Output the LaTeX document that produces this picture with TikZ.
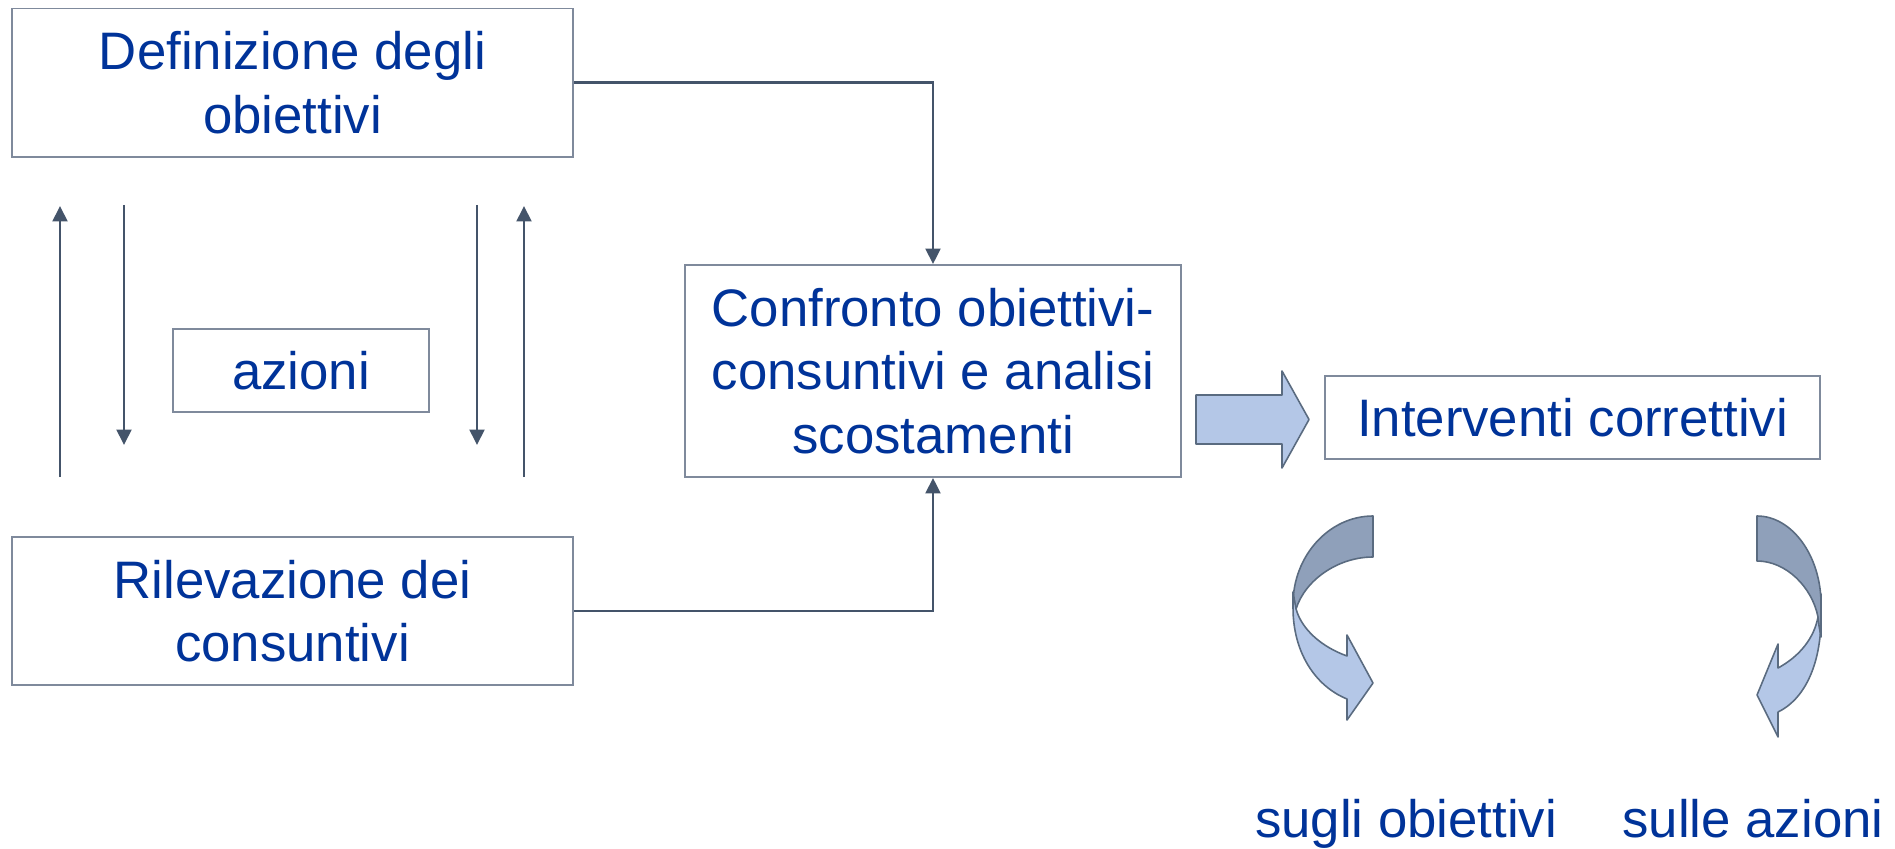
\documentclass[tikz,border=0pt]{standalone}
\usepackage{fontspec}
\setmainfont{Liberation Sans}
\usetikzlibrary{arrows.meta}
\definecolor{txtblue}{RGB}{0,51,153}
\definecolor{boxline}{RGB}{127,138,156}
\definecolor{connclr}{RGB}{68,84,106}
\definecolor{lightfill}{RGB}{180,199,231}
\definecolor{darkfill}{RGB}{143,160,186}
\definecolor{shapeline}{RGB}{90,107,128}
\begin{document}
\begin{tikzpicture}[x=0.01cm,y=-0.01cm,
  box/.style={draw=boxline,line width=0.5pt,fill=white,text=txtblue,
    font=\fontsize{15}{18}\selectfont,align=center,inner sep=0pt},
  connector/.style={draw=connclr,line width=0.8pt,-{Triangle[length=4.4pt,width=4.2pt]}},
  shapeband/.style={draw=shapeline,line width=0.45pt,line join=round},
  lbl/.style={text=txtblue,font=\fontsize{15}{18}\selectfont,anchor=base,inner sep=0pt}]
\useasboundingbox (0,0) rectangle (1895,849);

% boxes
\node[box,minimum width=5.61cm,minimum height=1.485cm] (def) at (292.5,82.75) {Definizione degli\\obiettivi};
\node[box,minimum width=5.61cm,minimum height=1.48cm] (ril) at (292.5,611) {Rilevazione dei\\consuntivi};
\node[box,minimum width=2.56cm,minimum height=0.83cm] (az) at (301,370.5) {azioni};
\node[box,minimum width=4.96cm,minimum height=2.12cm] (conf) at (933,371) {Confronto obiettivi-\\consuntivi e analisi\\scostamenti};
\node[box,minimum width=4.95cm,minimum height=0.83cm] (int) at (1572.5,417.5) {Interventi correttivi};

% connectors to the comparison box
\draw[connector] (def.east) -| (conf.north);
\draw[connector] (ril.east) -| (conf.south);

% vertical arrows between the two left boxes
\coordinate (a1b) at (60,477);  \coordinate (a1t) at (60,206);
\coordinate (a2t) at (124,205); \coordinate (a2b) at (124,445);
\coordinate (a3t) at (477,205); \coordinate (a3b) at (477,445);
\coordinate (a4b) at (524,477); \coordinate (a4t) at (524,206);
\draw[connector] (a1b) -- (a1t);
\draw[connector] (a2t) -- (a2b);
\draw[connector] (a3t) -- (a3b);
\draw[connector] (a4b) -- (a4t);

% block arrow
\draw[shapeband,fill=lightfill] (1196,395) -- (1282,395) -- (1282,371) -- (1309,419.5)
  -- (1282,468) -- (1282,444) -- (1196,444) -- cycle;

% left curved arrow (sugli obiettivi)
\draw[shapeband,fill=darkfill] (1373,516) .. controls (1329,516) and (1293,556) .. (1293,604)
  -- (1294,612) -- (1296,609) .. controls (1305,580) and (1338,557) .. (1373,557) -- cycle;
\draw[shapeband,fill=lightfill] (1293,592) -- (1293,608) .. controls (1293,652) and (1315,686) .. (1347,699)
  -- (1347,720) -- (1373,683) -- (1347,635) -- (1347,656)
  .. controls (1322,647) and (1302,630) .. (1296,609) -- cycle;

% right curved arrow (sulle azioni)
\draw[shapeband,fill=lightfill] (1821,594) -- (1821,617) .. controls (1821,667) and (1803,700) .. (1778,712)
  -- (1778,737) -- (1757,695) -- (1778,644) -- (1778,668)
  .. controls (1800,656) and (1814,638) .. (1818,617) -- cycle;
\draw[shapeband,fill=darkfill] (1757,516) .. controls (1792,516) and (1821,556) .. (1821,604)
  -- (1821,637) -- (1819,626) -- (1818,617) .. controls (1812,587) and (1786,561) .. (1757,561) -- cycle;

% labels
\node[lbl] (l1) at (1406,837) {sugli obiettivi};
\node[lbl] (l2) at (1753,837) {sulle azioni};
\end{tikzpicture}
\end{document}
